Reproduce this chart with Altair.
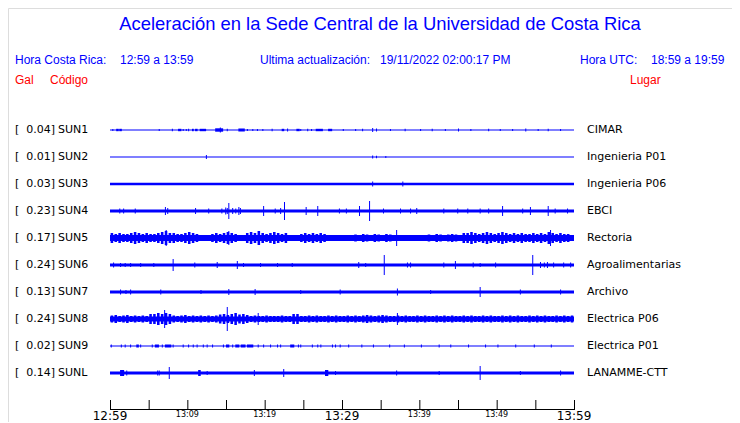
import altair as alt
import pandas as pd

BLUE = "#0000ff"
RED = "#ff0000"

TITLE = "Aceleración en la Sede Central de la Universidad de Costa Rica"
HDR_CR = "Hora Costa Rica:"
HDR_CR_T = "12:59 a 13:59"
HDR_UPD = "Ultima actualización:"
HDR_UPD_T = "19/11/2022 02:00:17 PM"
HDR_UTC = "Hora UTC:"
HDR_UTC_T = "18:59 a 19:59"
COL_GAL = "Gal"
COL_COD = "Código"
COL_LUG = "Lugar"

stations = ["SUN1", "SUN2", "SUN3", "SUN4", "SUN5", "SUN6", "SUN7", "SUN8", "SUN9", "SUNL"]
gal = ["0.04", "0.01", "0.03", "0.23", "0.17", "0.24", "0.13", "0.24", "0.02", "0.14"]
places = ["CIMAR", "Ingenieria P01", "Ingenieria P06", "EBCI", "Rectoria",
          "Agroalimentarias", "Archivo", "Electrica P06", "Electrica P01", "LANAMME-CTT"]

# background half-amplitude of each trace (px)
base_amp = [0.6, 0.5, 1.3, 1.4, 3.1, 1.5, 1.5, 2.5, 0.6, 1.6]

# noise peaks every 0.5 minute (half-amplitude) for the noisy traces
env_sun5 = ([5, 4, 5, 4, 4, 5, 6, 5, 4, 5, 4, 4, 5, 6, 7, 5, 5, 4, 4, 5, 6, 5, 4, 3]
            + [2.5, 2.5, 4, 5, 4, 5, 6, 5, 4, 3, 3, 5, 6, 5, 7, 5, 4, 5, 6, 5, 4, 5]
            + [3, 3, 3, 4, 5, 4, 5, 4, 5, 4, 2.5, 2.5, 3, 2.5, 3, 2.5, 2.5]
            + [3.5, 3, 4, 3.5, 3, 4, 3.5, 3, 4, 3.5, 3, 2.5, 2.5, 2.5, 3, 2.5, 2.5, 2.5, 2.5]
            + [3.5, 3, 4, 3.5, 3, 3.5, 4, 3.5, 3, 5, 5, 6, 5, 4, 5, 6, 5, 4, 5, 6, 5, 4, 5]
            + [4, 5, 4, 4, 5, 4, 5, 4, 6, 5, 4, 5, 4, 4, 3])
env_sun8 = ([3.5, 4, 3, 3.5, 4, 3, 3.5, 3, 3.5, 3, 5, 5, 6, 5, 6, 5, 3.5, 3, 3.5, 4, 3, 3.5, 3, 3.5, 3, 3.5, 3, 3.5]
            + [4.5, 5, 4, 5, 6, 4.5, 5, 4, 3, 3.5, 3, 3, 3.5, 3, 3, 3, 3.5, 3, 3, 5, 5, 3, 3, 3.5]
            + [3, 3.5, 3, 3, 3.5, 3, 3.5, 3, 3, 3.5, 3, 3.5, 3, 3.5, 4, 3.5, 3, 3.5, 4, 3.5, 3, 3, 3.5, 3]
            + [3.5, 3, 3, 3.5, 3, 3.5, 3, 3, 3.5, 3, 3.5, 3, 3.5, 3, 3, 3.5, 3, 3.5, 3, 3, 3.5, 3, 3.5, 3]
            + [3, 3.5, 3, 3.5, 3, 3.5, 3, 3, 3.5, 3, 3.5, 3, 3.5, 3, 3, 3.5, 3, 3.5, 3, 3.5])
envelopes = {4: env_sun5, 7: env_sun8}

# events: (start minute, end minute, half-amplitude)
events = {
    0: [(0.3, 0.3, 1), (0.8, 1.0, 1.2), (1.2, 1.4, 1.2), (6.3, 6.3, 1), (8.0, 8.0, 1.2), (8.8, 9.1, 1.2),
        (9.4, 9.4, 1), (9.8, 9.8, 1), (10.1, 10.1, 1.2), (10.6, 10.7, 1.2), (11.0, 11.2, 1.2), (11.6, 12.3, 1.2),
        (13.6, 14.5, 1.7), (14.2, 14.2, 2.5), (15.1, 15.1, 1.2), (16.6, 17.3, 1.5), (17.7, 17.7, 1), (18.4, 18.4, 1),
        (19.0, 19.0, 1), (19.7, 19.7, 1), (20.9, 20.9, 1.2), (22.2, 22.4, 1.2), (22.9, 22.9, 1.5), (24.1, 24.4, 1.2),
        (24.6, 24.6, 1), (25.5, 25.5, 1.2), (26.0, 26.0, 1), (26.6, 27.4, 1.2), (28.2, 28.6, 1.2), (30.1, 30.1, 1),
        (31.7, 31.7, 1), (32.6, 32.6, 1.2), (33.9, 33.9, 2), (34.4, 34.4, 1.5), (36.2, 36.2, 1), (38.1, 38.1, 1.2),
        (40.1, 40.1, 1), (41.6, 41.6, 1.2), (43.3, 43.3, 1), (45.0, 45.0, 1.5), (46.6, 46.6, 1), (48.9, 48.9, 1.2),
        (50.4, 50.4, 1), (52.0, 52.0, 1), (53.7, 53.7, 1.5), (55.3, 55.3, 1), (56.6, 56.6, 1.2), (58.2, 58.2, 1)],
    1: [(12.4, 12.4, 2), (33.9, 33.9, 1.5), (34.4, 34.4, 1.2), (35.6, 35.6, 1)],
    2: [(33.9, 33.9, 2.5), (37.8, 37.8, 2.5)],
    3: [(1.2, 1.2, 2.5), (1.7, 1.7, 2.5), (3.2, 3.2, 2.5), (7.1, 7.1, 4), (7.4, 7.4, 3), (11.0, 11.0, 3),
        (12.7, 12.7, 2.5), (14.4, 14.4, 2.5), (14.9, 14.9, 3.5), (15.1, 15.1, 3), (15.3, 15.3, 8), (15.8, 15.8, 3),
        (16.2, 16.2, 2.5), (16.6, 16.6, 4), (16.8, 16.8, 3),
        (19.8, 19.8, 5), (21.3, 21.3, 2.5), (22.0, 22.0, 3), (22.5, 22.5, 9), (25.3, 25.3, 4), (26.8, 26.8, 5),
        (29.6, 29.6, 2.5), (30.5, 30.5, 2.5), (32.2, 32.2, 5), (33.5, 33.5, 10), (35.3, 35.3, 2.5), (37.5, 37.5, 2.5),
        (38.8, 38.8, 2.5), (39.6, 39.6, 3), (43.1, 43.1, 2.5), (44.9, 44.9, 2.5), (46.2, 46.2, 2.5), (47.8, 47.8, 2.5),
        (48.9, 48.9, 2.5), (50.7, 50.7, 5), (53.3, 53.3, 2.5), (54.3, 54.3, 4), (56.6, 56.6, 5), (57.5, 57.5, 2.5),
        (59.1, 59.1, 2.5)],
    4: [(7.2, 7.2, 8), (15.3, 15.3, 7), (37.0, 37.0, 8), (56.9, 56.9, 8)],
    5: [(0.4, 0.4, 2.5), (1.3, 1.3, 2), (1.9, 1.9, 2), (2.6, 2.6, 2), (3.9, 3.9, 2), (5.6, 5.6, 2), (8.1, 8.1, 6),
        (10.9, 10.9, 2.5), (13.8, 13.8, 3), (16.4, 16.4, 4), (17.2, 17.2, 2), (19.4, 19.4, 2), (21.6, 21.6, 2),
        (23.5, 23.5, 2), (32.1, 32.1, 3), (33.0, 33.0, 2), (35.4, 35.4, 10), (38.4, 38.4, 2.5), (38.8, 38.8, 2.5),
        (43.1, 43.1, 2.5), (44.6, 44.6, 4), (46.9, 46.9, 2.5), (47.8, 47.8, 2), (49.8, 49.8, 2.5), (54.6, 54.6, 10),
        (55.6, 55.6, 3), (56.1, 56.1, 2.5), (56.5, 56.5, 3), (57.3, 57.3, 2.5), (58.6, 58.6, 2.5), (59.5, 59.5, 2.5)],
    6: [(1.3, 1.3, 2.5), (2.0, 2.0, 2), (2.6, 2.6, 2.5), (6.5, 6.5, 2.5), (11.7, 11.7, 2), (15.3, 15.3, 3),
        (18.7, 18.7, 3), (24.6, 24.6, 2), (29.7, 29.7, 2.5), (37.1, 37.1, 3.5), (41.4, 41.4, 2), (47.8, 47.8, 5),
        (53.0, 53.0, 2.5), (58.2, 58.2, 2.5)],
    7: [(7.0, 7.0, 9), (15.1, 15.1, 12), (19.1, 19.1, 6), (37.1, 37.1, 6)],
    8: [(0.1, 0.1, 1.5), (1.4, 1.4, 1.5), (1.9, 1.9, 1.5), (2.6, 2.6, 1.5), (3.4, 3.6, 1.5), (3.9, 3.9, 1.5),
        (5.4, 5.4, 1.5), (5.8, 6.2, 1.5), (6.7, 6.7, 1.5), (7.1, 7.8, 1.5), (8.1, 8.1, 1.5), (9.4, 9.4, 1.5),
        (10.1, 10.1, 1.5), (10.7, 10.7, 1.5), (11.2, 11.2, 1.5), (12.0, 12.0, 1.5), (12.5, 12.5, 1.5),
        (13.2, 13.2, 1.5), (14.6, 14.6, 1.5), (15.0, 15.3, 1.5), (15.8, 15.8, 1.5), (16.2, 16.6, 1.5),
        (16.9, 17.4, 1.5), (17.7, 18.4, 1.5), (19.1, 19.1, 1.5), (19.8, 19.8, 1.5), (20.7, 20.7, 1.5),
        (21.6, 21.6, 1.5), (22.0, 22.0, 1.5), (23.3, 23.7, 1.5), (24.3, 24.3, 1.5), (24.6, 24.6, 1.5),
        (26.1, 26.1, 1.5), (26.8, 26.8, 1.5), (27.2, 27.2, 1.5), (28.7, 28.7, 1.5), (29.1, 29.1, 1.5),
        (29.7, 29.7, 1.5), (30.8, 30.8, 1.5), (32.5, 32.5, 1.5), (34.0, 34.0, 1.5), (36.1, 36.1, 1.5),
        (38.0, 38.0, 1.5), (40.2, 40.2, 1.5), (42.5, 42.5, 1.5), (44.0, 44.0, 1.5), (46.3, 46.3, 1.5),
        (48.5, 48.5, 1.5), (50.1, 50.1, 1.5), (52.4, 52.4, 1.5), (54.8, 54.8, 1.5), (57.0, 57.0, 1.5)],
    9: [(1.3, 1.7, 3), (2.1, 2.1, 2.5), (6.1, 6.1, 2.5), (6.3, 6.3, 2.5), (7.6, 7.6, 6), (11.4, 11.6, 3),
        (12.5, 12.5, 2), (18.6, 18.6, 3), (22.4, 22.4, 4), (27.8, 28.1, 3), (29.1, 29.1, 2), (37.0, 37.0, 2.5),
        (42.5, 42.5, 2), (47.8, 47.8, 7), (53.0, 53.0, 2), (58.2, 58.2, 2.5)],
}

tick_minutes = list(range(0, 61, 5))
label_minutes = [0, 10, 20, 30, 40, 50, 60]
label_texts = ["12:59", "13:09", "13:19", "13:29", "13:39", "13:49", "13:59"]
label_big = [True, False, False, True, False, False, True]

ROW_PX = 27.0  # px between trace centres
ONE_PX_MIN = 60.0 / 464.0
NOISE_BAR_MIN = 0.33  # width of one noise burst bar (minutes)

rows = []
for i in range(len(stations)):
    rows.append((i, 0.0, 60.0, base_amp[i]))
    if i in envelopes:
        for k, a in enumerate(envelopes[i]):
            rows.append((i, k * 0.5 + 0.08, k * 0.5 + 0.08 + NOISE_BAR_MIN, a))
    for (m0, m1, a) in events[i]:
        rows.append((i, m0, m1 + ONE_PX_MIN, a))
df = pd.DataFrame(rows, columns=["idx", "x0", "x1", "amp"])

xs = alt.Scale(domain=[0, 60], range=[102, 566], nice=False, zero=False)
ys = alt.Scale(domain=[0, 9], range=[122, 365], nice=False, zero=False)

traces = alt.Chart(df).transform_calculate(
    y0=f"datum.idx - datum.amp / {ROW_PX}",
    y1=f"datum.idx + datum.amp / {ROW_PX}",
).mark_rect(color=BLUE).encode(
    x=alt.X("x0:Q", scale=xs, axis=None),
    x2="x1:Q",
    y=alt.Y("y0:Q", scale=ys, axis=None),
    y2="y1:Q",
)

sdf = pd.DataFrame({"idx": list(range(len(stations))), "st": stations,
                    "gal": [g + "]" for g in gal], "pl": places, "br": ["["] * len(stations)})
LBL = dict(font="DejaVu Sans", fontSize=11, baseline="middle", color="black")
lab_br = alt.Chart(sdf).mark_text(align="left", **LBL).encode(
    x=alt.value(7), y=alt.Y("idx:Q", scale=ys, axis=None), text="br:N")
lab_gal = alt.Chart(sdf).mark_text(align="right", **LBL).encode(
    x=alt.value(47), y=alt.Y("idx:Q", scale=ys, axis=None), text="gal:N")
lab_st = alt.Chart(sdf).mark_text(align="left", **LBL).encode(
    x=alt.value(50), y=alt.Y("idx:Q", scale=ys, axis=None), text="st:N")
lab_pl = alt.Chart(sdf).mark_text(align="left", **LBL).encode(
    x=alt.value(579), y=alt.Y("idx:Q", scale=ys, axis=None), text="pl:N")


def txt(s, x, y, color, size, font="Liberation Sans", align="left"):
    return alt.Chart(pd.DataFrame({"t": [s]})).mark_text(
        align=align, baseline="middle", font=font, fontSize=size, color=color
    ).encode(x=alt.value(x), y=alt.value(y), text="t:N")


texts = [
    txt(TITLE, 372, 15.5, BLUE, 18.4, align="center"),
    txt(HDR_CR, 7, 52, BLUE, 12),
    txt(HDR_CR_T, 112, 52, BLUE, 12),
    txt(HDR_UPD, 252, 52, BLUE, 12),
    txt(HDR_UPD_T, 372, 52, BLUE, 12),
    txt(HDR_UTC, 572, 52, BLUE, 12),
    txt(HDR_UTC_T, 643, 52, BLUE, 12),
    txt(COL_GAL, 7, 72, RED, 12),
    txt(COL_COD, 42, 72, RED, 12),
    txt(COL_LUG, 622, 72, RED, 12),
]

# time axis drawn as thin rectangles on the shared x scale
axis_line = alt.Chart(pd.DataFrame({"a": [0], "b": [60]})).mark_rect(color="black").encode(
    x=alt.X("a:Q", scale=xs, axis=None), x2="b:Q", y=alt.value(401), y2=alt.value(402))
tick_df = pd.DataFrame({"m": tick_minutes})
tick_marks = alt.Chart(tick_df).transform_calculate(m2=f"datum.m + {ONE_PX_MIN}").mark_rect(color="black").encode(
    x=alt.X("m:Q", scale=xs, axis=None), x2="m2:Q", y=alt.value(392), y2=alt.value(402))
ldf = pd.DataFrame({"m": label_minutes, "t": label_texts, "big": label_big})
big_lab = alt.Chart(ldf).transform_filter("datum.big").mark_text(
    font="DejaVu Sans", fontSize=12, baseline="middle", align="center", color="black").encode(
    x=alt.X("m:Q", scale=xs, axis=None), y=alt.value(408), text="t:N")
small_lab = alt.Chart(ldf).transform_filter("!datum.big").mark_text(
    font="DejaVu Sans", fontSize=8, baseline="middle", align="center", color="black").encode(
    x=alt.X("m:Q", scale=xs, axis=None), y=alt.value(407), text="t:N")

chart = alt.layer(
    traces, lab_br, lab_gal, lab_st, lab_pl, *texts, axis_line, tick_marks, big_lab, small_lab
).properties(
    width=724, height=414, autosize=alt.AutoSizeParams(type="none"), padding=0
).configure_view(stroke=None).configure(background="white")

chart.save("out.html", embed_options={"renderer": "svg", "actions": False})
